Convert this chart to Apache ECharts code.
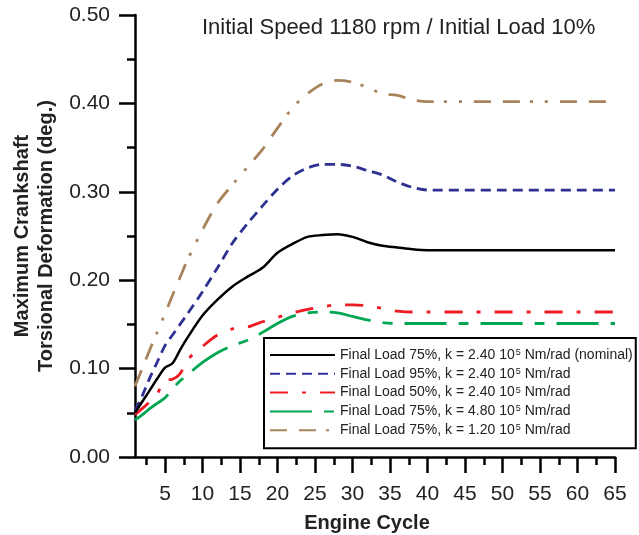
<!DOCTYPE html>
<html><head><meta charset="utf-8">
<script src="https://cdn.jsdelivr.net/npm/echarts@6/dist/echarts.min.js"></script>
<style>html,body{margin:0;padding:0;background:#fff}#c{width:639px;height:535px}</style>
</head><body><div id="c"></div>
<script>
const cycles =        [1,    2,    3,    4,    5,    6,    7,    8,    10,   12,   14,   16,   18,   20,   22,   24,   26,   28,   30,   32,   34,   36,   38,   40,   45,   50,   55,   60,   65];
const load75nominal = [0.050,0.063,0.076,0.089,0.101,0.106,0.121,0.135,0.160,0.178,0.193,0.204,0.214,0.231,0.241,0.249,0.251,0.252,0.249,0.243,0.239,0.237,0.235,0.234,0.234,0.234,0.234,0.234,0.234];
const load95 =        [0.052,0.070,0.090,0.108,0.126,0.138,0.150,0.162,0.187,0.214,0.242,0.264,0.284,0.303,0.318,0.327,0.331,0.331,0.329,0.324,0.319,0.311,0.305,0.302,0.302,0.302,0.302,0.302,0.302];
const load50 =        [0.048,0.055,0.063,0.072,0.087,0.088,0.094,0.110,0.125,0.138,0.145,0.147,0.153,0.158,0.163,0.167,0.170,0.172,0.172,0.171,0.168,0.165,0.164,0.164,0.164,0.164,0.164,0.164,0.164];
const load75stiff =   [0.042,0.048,0.055,0.061,0.067,0.077,0.086,0.093,0.107,0.118,0.126,0.132,0.141,0.151,0.159,0.163,0.164,0.163,0.159,0.155,0.152,0.151,0.151,0.151,0.151,0.151,0.151,0.151,0.151];
const load75soft =    [0.080,0.101,0.122,0.142,0.162,0.183,0.203,0.223,0.257,0.287,0.308,0.328,0.348,0.372,0.395,0.411,0.422,0.426,0.424,0.418,0.411,0.409,0.404,0.402,0.402,0.402,0.402,0.402,0.402];

const seriesNames = [
  'Final Load 75%, k = 2.40 10⁵ Nm/rad (nominal)',
  'Final Load 95%, k = 2.40 10⁵ Nm/rad',
  'Final Load 50%, k = 2.40 10⁵ Nm/rad',
  'Final Load 75%, k = 4.80 10⁵ Nm/rad',
  'Final Load 75%, k = 1.20 10⁵ Nm/rad'
];
const xMajorTicks = [5,10,15,20,25,30,35,40,45,50,55,60,65];
const xMinorTicks = [2.5,7.5,12.5,17.5,22.5,27.5,32.5,37.5,42.5,47.5,52.5,57.5,62.5];
const titleText = 'Initial Speed 1180 rpm / Initial Load 10%';
const xName = 'Engine Cycle';
const yName = 'Maximum Crankshaft\nTorsional Deformation (deg.)';

const FONT = '"Liberation Sans", Arial, Helvetica, sans-serif';
const seriesData = [load75nominal, load95, load50, load75stiff, load75soft];
const styles = [
  {color:'#000000', width:2.5, type:'solid'},
  {color:'#2E3192', width:2.8, type:[10,6]},
  {color:'#ED1C24', width:2.8, type:[18,14,4,14]},
  {color:'#00A651', width:2.8, type:[42,12,10,12]},
  {color:'#A9835C', width:2.8, type:[17,12,17,10,3,12,3,12]}
];

const chart = echarts.init(document.getElementById('c'), null, {renderer:'canvas'});
const gridPos = {left:135, right:24, top:15, bottom:78};
chart.setOption({
  backgroundColor:'#ffffff',
  animation:false,
  textStyle:{fontFamily:FONT},
  grid:[Object.assign({}, gridPos), Object.assign({}, gridPos)],
  xAxis:[{
    type:'value', gridIndex:0, min:1, max:65,
    axisLine:{show:true, onZero:false, lineStyle:{color:'#000', width:2.5}},
    axisTick:{show:true, customValues:xMajorTicks, length:16, lineStyle:{color:'#000', width:2.5}},
    axisLabel:{customValues:xMajorTicks, margin:27, fontSize:21, color:'#222', fontFamily:FONT},
    splitLine:{show:false}
  },{
    type:'value', gridIndex:1, min:1, max:65,
    axisLine:{show:false, onZero:false},
    axisTick:{show:true, customValues:xMinorTicks, length:8, lineStyle:{color:'#000', width:2.5}},
    axisLabel:{show:false},
    splitLine:{show:false}
  }],
  yAxis:[{
    type:'value', gridIndex:0, min:0, max:0.5, interval:0.1,
    axisLine:{show:true, onZero:false, lineStyle:{color:'#000', width:2.5}},
    axisTick:{show:true, length:16, lineStyle:{color:'#000', width:2.5}},
    minorTick:{show:true, splitNumber:2, length:8, lineStyle:{color:'#000', width:2.5}},
    axisLabel:{margin:25, fontSize:21, color:'#222', fontFamily:FONT, formatter:v=>v.toFixed(2)},
    splitLine:{show:false}
  },{
    type:'value', gridIndex:1, min:0, max:0.5, show:false
  }],
  legend:{
    orient:'vertical', left:264, top:338,
    padding:[10,3,11,5], itemGap:4.8, itemWidth:65, itemHeight:14,
    borderColor:'#000', borderWidth:2, backgroundColor:'#fff',
    itemStyle:{opacity:0},
    data:seriesNames,
    textStyle:{fontSize:14, color:'#222', fontFamily:FONT, lineHeight:14,
      rich:{t:{fontSize:14, color:'#222', fontFamily:FONT, lineHeight:14},
            s:{fontSize:9, color:'#222', fontFamily:FONT, lineHeight:9, verticalAlign:'top', padding:[0,0,0,1]}}},
    formatter:function(name){
      const parts = name.split('⁵');
      return '{t|' + parts[0] + '}{s|5}{t|' + parts[1] + '}';
    }
  },
  graphic:[
    {type:'text', x:202, y:17, style:{text:titleText, fontSize:22, fontFamily:FONT, fill:'#222', align:'left', verticalAlign:'top'}},
    {type:'text', x:367, y:523, style:{text:xName, fontSize:20, fontWeight:'bold', fontFamily:FONT, fill:'#222', align:'center', verticalAlign:'middle'}},
    {type:'text', x:34, y:236, rotation:Math.PI/2, style:{text:yName, fontSize:20, fontWeight:'bold', fontFamily:FONT, fill:'#222', align:'center', verticalAlign:'middle', lineHeight:24}}
  ],
  series: seriesNames.map((n,i)=>({
    name:n, type:'line', xAxisIndex:0, yAxisIndex:0,
    data: cycles.map((c,j)=>[c, seriesData[i][j]]),
    showSymbol:false, symbol:'none', smooth:0.3,
    lineStyle:{color:styles[i].color, width:styles[i].width, type:styles[i].type, cap:'butt'},
    itemStyle:{color:styles[i].color},
    z: 5 - i
  }))
});
</script></body></html>
